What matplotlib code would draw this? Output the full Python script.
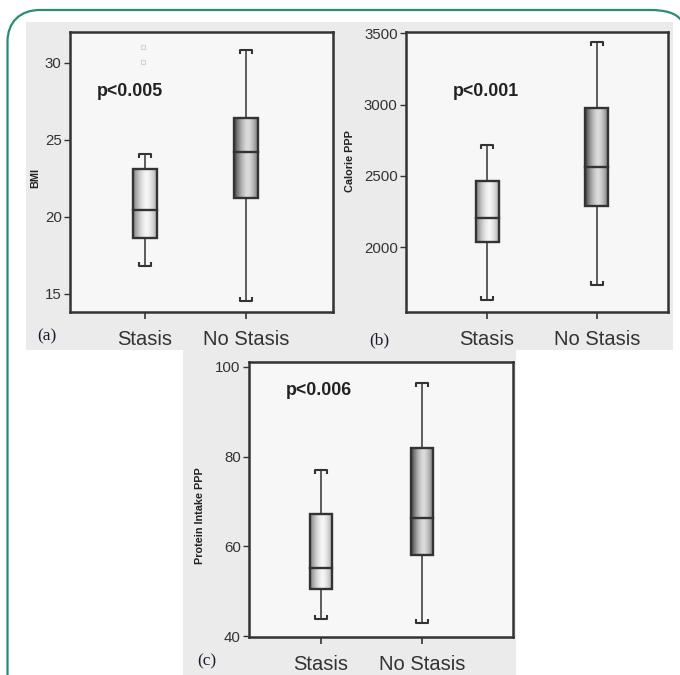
import numpy as np
import matplotlib
matplotlib.use("Agg")
import matplotlib.pyplot as plt
from matplotlib.path import Path
from matplotlib.patches import PathPatch, Rectangle
from matplotlib.transforms import Affine2D

plt.rcParams['font.family'] = ['Liberation Sans', 'DejaVu Sans']

groups = ["Stasis", "No Stasis"]

# (a) BMI
bmi_low = [16.8, 14.5]
bmi_q1 = [18.6, 21.2]
bmi_med = [20.45, 24.2]
bmi_q3 = [23.1, 26.4]
bmi_high = [24.1, 30.8]
bmi_outliers = [30.05, 31.0]   # Stasis group
bmi_ticks = [15, 20, 25, 30]

# (b) Calorie PPP
cal_low = [1628, 1733]
cal_q1 = [2034, 2287]
cal_med = [2203, 2560]
cal_q3 = [2462, 2974]
cal_high = [2715, 3440]
cal_ticks = [2000, 2500, 3000, 3500]

# (c) Protein intake PPP
pro_low = [43.9, 43.0]
pro_q1 = [50.6, 58.0]
pro_med = [55.1, 66.3]
pro_q3 = [67.2, 81.9]
pro_high = [77.0, 96.5]
pro_ticks = [40, 60, 80, 100]

W, H = 680, 675
fig = plt.figure(figsize=(W / 100, H / 100), dpi=100)
fig.patch.set_facecolor("white")

# pixel (top-left origin) -> figure coords
pix = Affine2D().scale(1 / W, -1 / H).translate(0, 1) + fig.transFigure

# grey panel backgrounds
fig.add_artist(Rectangle((26, 22), 647, 328, transform=pix, facecolor="#ebebeb",
                         edgecolor="none", zorder=0))
fig.add_artist(Rectangle((183, 350), 333, 325, transform=pix, facecolor="#ebebeb",
                         edgecolor="none", zorder=0))

# green rounded border
verts = [(7.5, 676), (7.5, 42), (7.5, 22), (20, 10), (40, 10), (650, 10),
         (665, 10), (676, 13), (681, 20)]
codes = [Path.MOVETO, Path.LINETO, Path.CURVE4, Path.CURVE4, Path.CURVE4,
         Path.LINETO, Path.CURVE4, Path.CURVE4, Path.CURVE4]
fig.add_artist(PathPatch(Path(verts, codes), transform=pix, facecolor="none",
                         edgecolor="#2a8c74", lw=1.6, zorder=1))

cap_top = Path([(-1, -0.7), (-1, 0), (1, 0), (1, -0.7)])
cap_bot = Path([(-1, 0.7), (-1, 0), (1, 0), (1, 0.7)])

shade = np.linspace(-1, 1, 80)
profile = 1 - np.abs(shade - 0.1) ** 1.6
shade_lo = [0.56, 0.33]
shade_hi = [0.96, 0.86]


def boxplot(ax, low, q1, med, q3, high, width, xlim, ylim, ticks):
    pos = [1, 2]
    for i, p in enumerate(pos):
        ax.plot([p, p], [low[i], q1[i]], color="#333333", lw=1.1, zorder=2)
        ax.plot([p, p], [q3[i], high[i]], color="#333333", lw=1.1, zorder=2)
        ax.plot([p], [high[i]], marker=cap_top, ms=8, mfc="none", mec="#333333",
                mew=1.5, zorder=3)
        ax.plot([p], [low[i]], marker=cap_bot, ms=8, mfc="none", mec="#333333",
                mew=1.5, zorder=3)
        grad = shade_lo[i] + (shade_hi[i] - shade_lo[i]) * profile
        ax.imshow(grad[None, :], cmap="gray", vmin=0, vmax=1, aspect="auto",
                  extent=[p - width / 2, p + width / 2, q1[i], q3[i]], zorder=3,
                  interpolation="bilinear")
        ax.add_patch(Rectangle((p - width / 2, q1[i]), width, q3[i] - q1[i],
                               facecolor="none", edgecolor="#333333", lw=1.7, zorder=4))
        ax.plot([p - width / 2, p + width / 2], [med[i], med[i]], color="#333333",
                lw=1.7, zorder=5)
    ax.set_xlim(*xlim)
    ax.set_ylim(*ylim)
    ax.set_xticks(pos)
    ax.set_xticklabels(groups, fontsize=14.5, color="#333333")
    ax.set_yticks(ticks)
    ax.tick_params(axis="y", labelsize=10.8, colors="#333333", length=4, width=1, pad=2)
    ax.tick_params(axis="x", length=5, width=1.2, pad=8, colors="#333333")
    ax.set_facecolor("#f7f7f7")
    for s in ax.spines.values():
        s.set_color("#333333")
        s.set_linewidth(1.8)


# (a)
ax1 = fig.add_axes([70 / W, 1 - 312 / H, 263 / W, 280 / H])
boxplot(ax1, bmi_low, bmi_q1, bmi_med, bmi_q3, bmi_high, 0.24,
        (0.26, 2.86), (13.8, 32.0), bmi_ticks)
ax1.plot([0.98] * len(bmi_outliers), bmi_outliers, "s", ms=3.5, mfc="none",
         mec="#d4d4d4", mew=0.8, zorder=3)
ax1.set_ylabel("BMI", fontsize=7.8, fontweight="bold", color="#222222")
ax1.yaxis.set_label_coords(-0.114, 0.48)
ax1.text(0.103, 0.786, "p<0.005", transform=ax1.transAxes, fontsize=12.8,
         fontweight="bold", color="#222222", va="center")

# (b)
ax2 = fig.add_axes([406 / W, 1 - 312 / H, 262 / W, 280 / H])
boxplot(ax2, cal_low, cal_q1, cal_med, cal_q3, cal_high, 0.21,
        (0.26, 2.65), (1544, 3510), cal_ticks)
ax2.set_ylabel("Calorie PPP", fontsize=7.8, fontweight="bold", color="#222222")
ax2.yaxis.set_label_coords(-0.195, 0.54)
ax2.text(0.18, 0.786, "p<0.001", transform=ax2.transAxes, fontsize=12.8,
         fontweight="bold", color="#222222", va="center")

# (c)
ax3 = fig.add_axes([249 / W, 1 - 637 / H, 264 / W, 275 / H])
boxplot(ax3, pro_low, pro_q1, pro_med, pro_q3, pro_high, 0.22,
        (0.29, 2.9), (39.8, 101.1), pro_ticks)
ax3.set_ylabel("Protein Intake PPP", fontsize=7.8, fontweight="bold", color="#222222")
ax3.yaxis.set_label_coords(-0.167, 0.44)
ax3.text(0.14, 0.898, "p<0.006", transform=ax3.transAxes, fontsize=12.8,
         fontweight="bold", color="#222222", va="center")

# panel letters
for lab, x, y in [("(a)", 47, 336), ("(b)", 379, 340), ("(c)", 207, 661)]:
    fig.text(x / W, 1 - y / H, lab, fontsize=12.5, family="Liberation Serif",
             color="#1a1a2e", ha="center", va="center")

fig.savefig("out.png", dpi=100)
